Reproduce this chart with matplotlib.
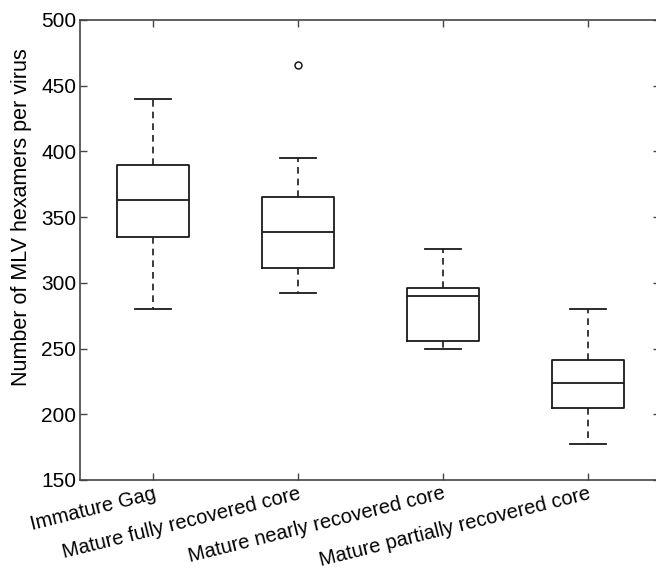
import matplotlib
matplotlib.use("Agg")
import matplotlib.pyplot as plt

# values
groups = ["Immature Gag", "Mature fully recovered core",
          "Mature nearly recovered core", "Mature partially recovered core"]
medians = [363, 339, 290, 224]
q1 = [335, 311, 256, 205]
q3 = [390, 365, 296, 241]
whisker_lo = [280, 292, 250, 177]
whisker_hi = [440, 395, 326, 280]
outliers = [[], [466], [], []]
yticks = [150, 200, 250, 300, 350, 400, 450, 500]

plt.rcParams['font.family'] = ['Liberation Sans', 'DejaVu Sans']

fig = plt.figure(figsize=(6.56, 5.76), dpi=100)
# right spine sits just outside the picture, like the cropped original
ax = fig.add_axes([0.1227, 0.1667, 0.8841, 0.7986])

stats = []
for i, name in enumerate(groups):
    stats.append(dict(label=name, med=medians[i], q1=q1[i], q3=q3[i],
                      whislo=whisker_lo[i], whishi=whisker_hi[i],
                      fliers=outliers[i]))

line = dict(color='#1a1a1a', linewidth=1.3)
ax.bxp(stats, positions=[1, 2, 3, 4], widths=0.5, capwidths=0.25,
       boxprops=line, medianprops=line, capprops=line,
       whiskerprops=dict(color='#1a1a1a', linewidth=1.2, linestyle=(0, (4, 3))),
       flierprops=dict(marker='o', markersize=5, markerfacecolor='none',
                       markeredgecolor='#1a1a1a', markeredgewidth=1.1))

ax.set_xlim(0.5, 4.5)
ax.set_ylim(150, 500)
ax.set_yticks(yticks)
ax.set_ylabel("Number of MLV hexamers per virus", fontsize=15.5)
ax.yaxis.set_label_coords(-0.084, 0.572)

for s in ax.spines.values():
    s.set_color('#444444')
    s.set_linewidth(1.2)

ax.tick_params(axis='both', direction='in', length=5, width=1.0, color='#444444',
               top=True, right=True)
ax.tick_params(axis='y', labelsize=15, pad=3)
ax.tick_params(axis='x', labelsize=14.5, pad=3)

ax.set_xticks([1, 2, 3, 4])
ax.set_xticklabels(groups, rotation=14, ha='right', rotation_mode='anchor')

fig.savefig("out.png", dpi=100)
